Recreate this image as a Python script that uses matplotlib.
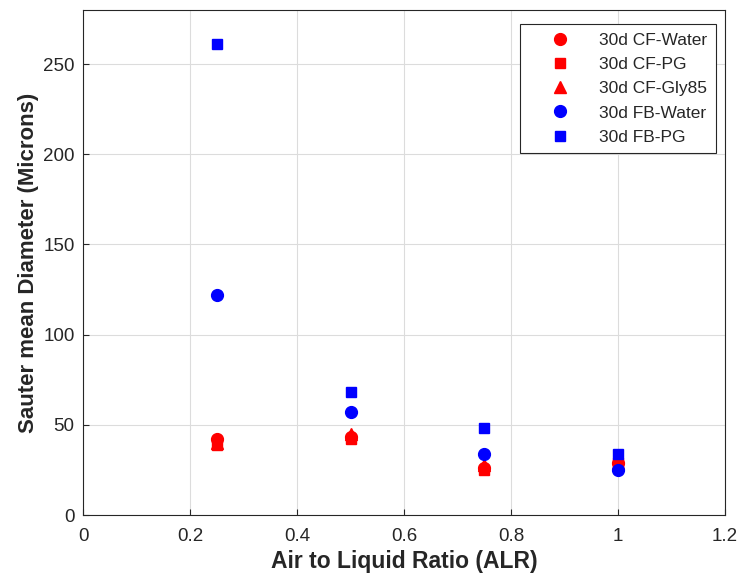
import matplotlib
matplotlib.use("Agg")
import matplotlib.pyplot as plt

alr = [0.25, 0.5, 0.75, 1.0]

cf_water = [42, 43, 26, 29]
cf_pg = [39, 42, 25, 29]
cf_gly85 = [40, 45, 28, 29]
fb_water = [122, 57, 34, 25]
fb_pg = [261, 68, 48.5, 34]

series = [
    ("30d CF-Water", cf_water, "red", "o"),
    ("30d CF-PG", cf_pg, "red", "s"),
    ("30d CF-Gly85", cf_gly85, "red", "^"),
    ("30d FB-Water", fb_water, "blue", "o"),
    ("30d FB-PG", fb_pg, "blue", "s"),
]

plt.rcParams['font.family'] = ['Liberation Sans', 'DejaVu Sans']

fig = plt.figure(figsize=(7.42, 5.82), dpi=100)
ax = fig.add_axes([0.1119, 0.1151, 0.8652, 0.8677])

for label, vals, color, marker in series:
    ms = 8.5 if marker != "s" else 7
    ax.plot(alr, vals, linestyle="none", marker=marker, color=color,
            markersize=ms, label=label)

ax.set_xlim(0, 1.2)
ax.set_ylim(0, 280)
ax.set_xticks([0, 0.2, 0.4, 0.6, 0.8, 1, 1.2])
ax.set_xticklabels(["0", "0.2", "0.4", "0.6", "0.8", "1", "1.2"])
ax.set_yticks([0, 50, 100, 150, 200, 250])
ax.grid(True, color="#dcdcdc", linewidth=0.8)
ax.set_axisbelow(True)
ax.tick_params(labelsize=13.5, colors="#262626", direction="in", length=4)
ax.tick_params(axis="x", pad=9)
ax.tick_params(axis="y", pad=6)
for sp in ax.spines.values():
    sp.set_color("#262626")

ax.set_xlabel("Air to Liquid Ratio (ALR)", fontsize=16.5, fontweight="bold",
              color="#262626", labelpad=4)
ax.set_ylabel("Sauter mean Diameter (Microns)", fontsize=16, fontweight="bold",
              color="#262626", labelpad=3)

leg = ax.legend(loc="upper right", fontsize=12.5, fancybox=False, framealpha=1,
                edgecolor="#262626", borderpad=0.5, labelspacing=0.52,
                handletextpad=0.45, handlelength=3.6, borderaxespad=0,
                bbox_to_anchor=(0.986, 0.972))
leg.get_frame().set_linewidth(0.8)
for t in leg.get_texts():
    t.set_color("#262626")

fig.savefig("out.png", dpi=100)
